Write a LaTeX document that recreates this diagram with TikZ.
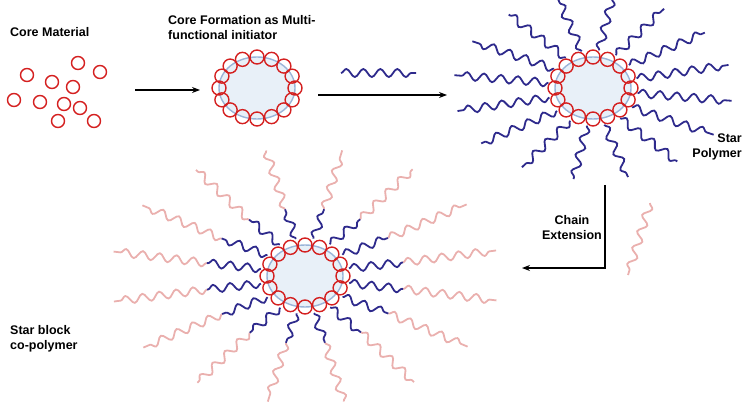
\documentclass[tikz,border=0pt]{standalone}
\usepackage{fontspec}
\setmainfont{Liberation Sans}
\usetikzlibrary{decorations.pathmorphing,arrows.meta}
\definecolor{cred}{HTML}{D42020}
\definecolor{cblue}{HTML}{2E2A8C}
\definecolor{cpink}{HTML}{EAB0AE}
\definecolor{cfill}{HTML}{E8F0F8}
\definecolor{cring}{HTML}{9AB4D8}
\tikzset{
  x=1pt,y=-1pt,
  bead/.style={draw=cred,line width=1.4pt,circle,minimum size=14pt,inner sep=0pt},
  chain/.style={draw=cblue,line width=1.8pt,decorate,decoration={snake,amplitude=4pt,segment length=17pt}},
  pchain/.style={chain,draw=cpink},
  lbl/.style={font=\bfseries\fontsize{12.5}{15}\selectfont,align=left,inner sep=0pt},
  arr/.style={-{Stealth[length=8pt]},line width=1.2pt},
}
\newcommand{\mycore}[3]{% cx cy name
  \coordinate (#3) at (#1,#2);
  \fill[cfill] (#3) ellipse [x radius=38,y radius=31];
  \draw[cring,line width=1.4pt] (#3) ellipse [x radius=38,y radius=31];
  \foreach \i in {0,...,15}{\node[bead] at ({#1+38*cos(22.5*\i)},{#2+31*sin(22.5*\i)}) {};}
}
\begin{document}
\begin{tikzpicture}
\useasboundingbox (0,0) rectangle (755,406);
\clip (0,0) rectangle (755,406);
% texts
\node[lbl,anchor=north west] (t1) at (10,27) {Core Material};
\node[lbl,anchor=north west] (t2) at (168,15) {Core Formation as Multi-\\functional initiator};
\node[lbl,align=right,anchor=north east] (t3) at (742,134) {Star\\Polymer};
\node[lbl,align=center] (t4) at (572,228) {Chain\\Extension};
\node[lbl,anchor=north west] (t5) at (10,325) {Star block\\co-polymer};
% core material
\foreach \x/\y [count=\k] in {27/75,52/82,78/63,100/72,14/100,40/102,73/87,64/104,80/108,58/121,94/121}
  \node[bead,minimum size=13pt] (m\k) at (\x,\y) {};
% core formation
\mycore{257}{88}{cf}
% arrows
\coordinate (a1s) at (135,90); \coordinate (a1e) at (200,90);
\draw[arr] (a1s) -- (a1e);
\coordinate (a2s) at (318,95); \coordinate (a2e) at (447,95);
\draw[arr] (a2s) -- (a2e);
\coordinate (mc1) at (341,73); \coordinate (mc2) at (416,73);
\draw[chain] (mc1) -- (mc2);
% star polymer
\foreach \a in {8,30.5,...,350}{
  \draw[chain] ({593+45*cos(\a)},{88+38*sin(\a)}) -- ({593+140*cos(\a)},{88+92*sin(\a)});}
\mycore{593}{88}{sp}
% chain extension arrow
\coordinate (c1) at (605,185); \coordinate (c2) at (605,268); \coordinate (c3) at (522,268);
\draw[arr] (c1) -- (c2) -- (c3);
\coordinate (pc1) at (650,203); \coordinate (pc2) at (628,275);
\draw[pchain] (pc1) -- (pc2);
% star block copolymer
\foreach \a in {11,33.5,...,355}{
  \draw[pchain] ({305+100*cos(\a)},{276+68*sin(\a)}) -- ({305+195*cos(\a)},{276+128*sin(\a)});
  \draw[chain] ({305+45*cos(\a)},{276+38*sin(\a)}) -- ({305+100*cos(\a)},{276+68*sin(\a)});}
\mycore{305}{276}{sb}
\end{tikzpicture}
\end{document}
